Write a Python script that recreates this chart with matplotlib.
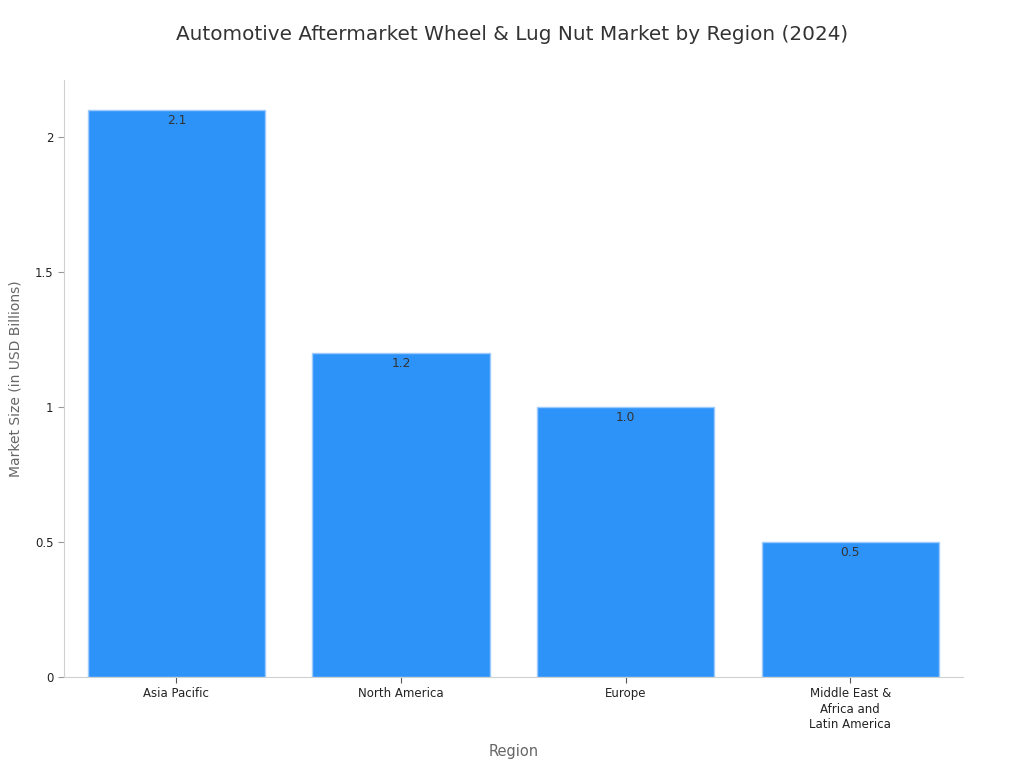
import matplotlib.pyplot as plt
from matplotlib.ticker import FuncFormatter

# Market size by region, 2024 (USD billions)
regions = ["Asia Pacific", "North America", "Europe", "Middle East &\nAfrica and\nLatin America"]
market_size = [2.1, 1.2, 1.0, 0.5]
value_labels = ["2.1", "1.2", "1.0", "0.5"]

fig = plt.figure(figsize=(10.24, 7.68), dpi=100)
ax = fig.add_axes([0.0625, 0.1185, 0.8775, 0.7775])

bars = ax.bar(range(len(regions)), market_size, width=0.79,
              color="#2E93F9", edgecolor="#9CCBFB", linewidth=1)

for bar, lab in zip(bars, value_labels):
    ax.text(bar.get_x() + bar.get_width() / 2, bar.get_height() - 0.015, lab,
            ha="center", va="top", fontsize=8.8, color="#333333")

ax.set_xlim(-0.5, len(regions) - 0.5)
ax.set_ylim(0, 2.21)
ax.set_yticks([0, 0.5, 1, 1.5, 2])
ax.yaxis.set_major_formatter(FuncFormatter(lambda v, p: f"{v:g}"))
ax.set_xticks(range(len(regions)))
ax.set_xticklabels(regions, fontsize=8.5, color="#222222", linespacing=1.25)
ax.tick_params(axis="y", labelsize=8.5, labelcolor="#222222", color="#999999", length=4)
ax.tick_params(axis="x", color="#555555", length=4)

for s in ["top", "right"]:
    ax.spines[s].set_visible(False)
for s in ["left", "bottom"]:
    ax.spines[s].set_color("#d0d0d0")

ax.set_xlabel("Region", fontsize=10.5, color="#666666", labelpad=9)
ax.set_ylabel("Market Size (in USD Billions)", fontsize=10, color="#666666", labelpad=9)
fig.suptitle("Automotive Aftermarket Wheel & Lug Nut Market by Region (2024)",
             y=0.968, fontsize=14.4, color="#333333")

fig.savefig("out.png", dpi=100)
